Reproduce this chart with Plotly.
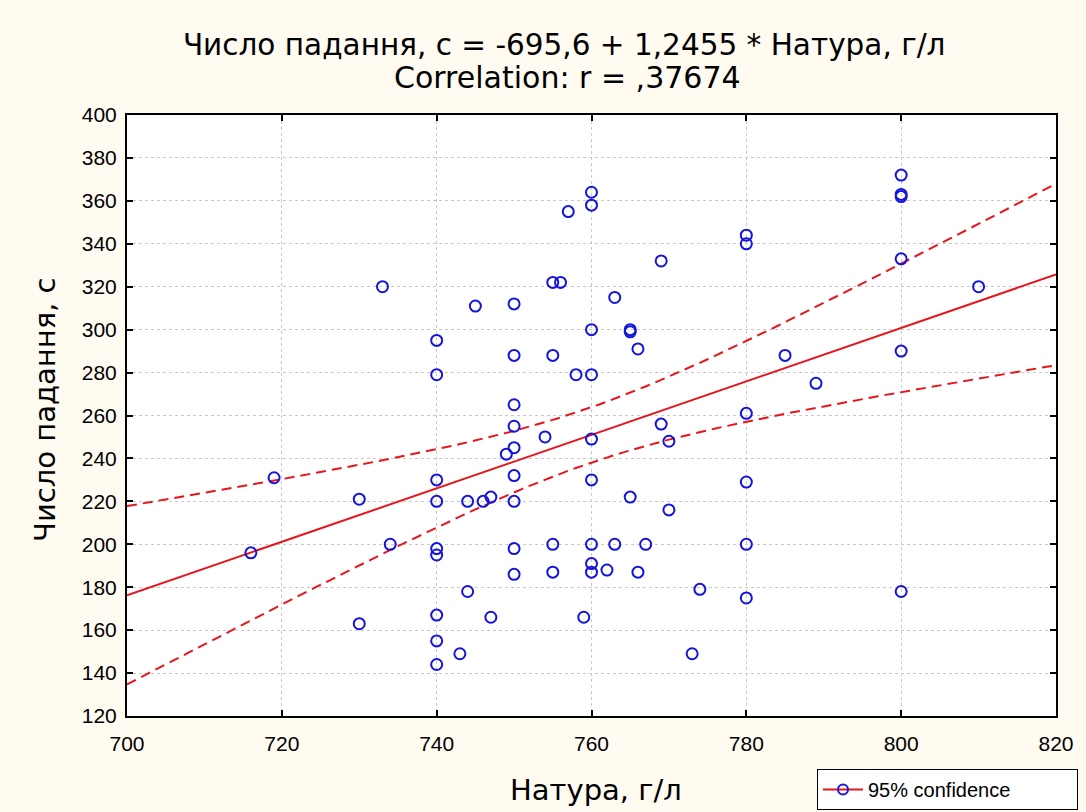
import numpy as np
import plotly.graph_objects as go

# Data
natura = [716, 719, 730, 730, 733, 734,
          740, 740, 740, 740, 740, 740, 740, 740, 740,
          743, 744, 744, 745, 746, 747, 747, 749,
          750, 750, 750, 750, 750, 750, 750, 750, 750,
          754, 755, 755, 755, 755, 756, 757, 758, 759,
          760, 760, 760, 760, 760, 760, 760, 760, 760,
          762, 763, 763, 765, 765, 765, 766, 766, 767,
          769, 769, 770, 770, 773, 774,
          780, 780, 780, 780, 780, 780,
          785, 789,
          800, 800, 800, 800, 800, 800,
          810]
chyslo = [196, 231, 221, 163, 320, 200,
          295, 279, 230, 220, 198, 195, 167, 155, 144,
          149, 220, 178, 311, 220, 222, 166, 242,
          312, 288, 265, 255, 245, 232, 220, 198, 186,
          250, 322, 288, 200, 187, 322, 355, 279, 166,
          364, 358, 300, 279, 249, 230, 200, 191, 187,
          188, 315, 200, 300, 299, 222, 291, 187, 200,
          332, 256, 248, 216, 149, 179,
          344, 340, 261, 229, 200, 175,
          288, 275,
          372, 363, 362, 333, 290, 178,
          320]

intercept = -695.6
slope = 1.2455
x_range = [700, 820]
y_range = [120, 400]
x_ticks = [700, 720, 740, 760, 780, 800, 820]
y_ticks = [120, 140, 160, 180, 200, 220, 240, 260, 280, 300, 320, 340, 360, 380, 400]

title_line1 = "Число падання, с = -695,6 + 1,2455 * Натура, г/л"
title_line2 = "Correlation: r = ,37674"
x_title = "Натура, г/л"
y_title = "Число падання, с"
legend_name = "95% confidence"

# Regression line and 95% confidence band
x = np.array(natura, dtype=float)
y = np.array(chyslo, dtype=float)
n = len(x)
xbar = x.mean()
sxx = ((x - xbar) ** 2).sum()
resid = y - (intercept + slope * x)
s = np.sqrt((resid ** 2).sum() / (n - 2))
t_crit = 1.9908
xl = np.linspace(x_range[0], x_range[1], 121)
yl = intercept + slope * xl
half = t_crit * s * np.sqrt(1.0 / n + (xl - xbar) ** 2 / sxx)

red = "#e8141c"
blue = "#1414dc"

fig = go.Figure()
fig.add_trace(go.Scatter(x=xl, y=yl + half, mode="lines",
                         line=dict(color=red, width=2, dash="10px,6px"),
                         showlegend=False, hoverinfo="skip"))
fig.add_trace(go.Scatter(x=xl, y=yl - half, mode="lines",
                         line=dict(color=red, width=2, dash="10px,6px"),
                         showlegend=False, hoverinfo="skip"))
fig.add_trace(go.Scatter(x=xl, y=yl, mode="lines",
                         line=dict(color=red, width=2),
                         showlegend=False))
fig.add_trace(go.Scatter(x=natura, y=chyslo, mode="markers",
                         marker=dict(symbol="circle-open", size=11, color=blue,
                                     line=dict(width=2, color=blue)),
                         showlegend=False))
# legend-only entry
fig.add_trace(go.Scatter(x=[None], y=[None], mode="lines+markers",
                         name=legend_name,
                         line=dict(color=red, width=2),
                         marker=dict(symbol="circle-open", size=10, color=blue,
                                     line=dict(width=2, color=blue))))

tick_font = "Liberation Sans, Arial, sans-serif"
title_font = "DejaVu Sans, Liberation Sans, sans-serif"
axis_common = dict(showline=True, linecolor="black", linewidth=2, mirror="ticks",
                   ticks="inside", ticklen=6, tickwidth=2, tickcolor="black",
                   showgrid=True, gridcolor="#c8c8c8", griddash="dot", gridwidth=1,
                   zeroline=False, automargin=False,
                   tickfont=dict(size=21, color="black", family=tick_font))

fig.update_layout(
    width=1086, height=812,
    paper_bgcolor="#fffbf0", plot_bgcolor="white",
    font=dict(family=tick_font, color="black"),
    margin=dict(l=127, r=30, t=115, b=96, autoexpand=False),
    title=dict(text=title_line1, x=0.5195, xref="container", xanchor="center",
               y=1 - 45 / 812, yref="container", yanchor="middle",
               font=dict(size=29.5, color="black", family=title_font)),
    annotations=[
        dict(text=title_line2, xref="paper", yref="paper",
             x=(567 - 127) / 929, y=(716 - 77) / 601,
             xanchor="center", yanchor="middle", showarrow=False,
             font=dict(size=30, color="black", family=title_font)),
        dict(text=x_title, xref="paper", yref="paper",
             x=(596 - 127) / 929, y=(716 - 790) / 601,
             xanchor="center", yanchor="middle", showarrow=False,
             font=dict(size=29, color="black", family=title_font)),
        dict(text=y_title, xref="paper", yref="paper", textangle=-90,
             x=(45 - 127) / 929, y=(716 - 410) / 601,
             xanchor="center", yanchor="middle", showarrow=False,
             font=dict(size=29, color="black", family=title_font)),
    ],
    xaxis=dict(range=x_range, tickvals=x_ticks, ticklabelstandoff=8, **axis_common),
    yaxis=dict(range=y_range, tickvals=y_ticks, ticklabelstandoff=4, **axis_common),
    legend=dict(xref="container", yref="container",
                x=1078 / 1086, xanchor="right", y=1 - 769 / 812, yanchor="top",
                orientation="h", entrywidth=204, itemwidth=40,
                bgcolor="white", bordercolor="black", borderwidth=1,
                font=dict(size=20, color="black", family=tick_font)),
    showlegend=True,
)

fig.write_html("out.html", config={"displayModeBar": False},
               post_script="document.body.style.margin='0';")
